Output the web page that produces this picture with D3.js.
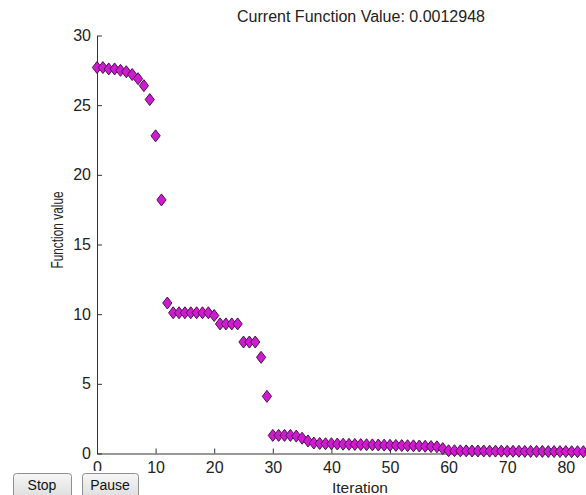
<!DOCTYPE html>
<html>
<head>
<meta charset="utf-8">
<script src="https://cdn.jsdelivr.net/npm/d3@7"></script>
<style>
    body { margin: 0; background: #fff; }
    svg { display: block; font-family: "Liberation Sans", Arial, sans-serif; }
</style>
</head>
<body>
<script>
// function value per iteration
var values = [
    27.7, 27.7, 27.6, 27.6, 27.5, 27.4, 27.2, 26.9, 26.4, 25.4, 22.8, 18.2,
    10.8, 10.1, 10.1, 10.1, 10.1, 10.1, 10.1, 10.1, 9.9,
    9.3, 9.3, 9.3, 9.3, 8.0, 8.0, 8.0, 6.9, 4.1,
    1.3, 1.3, 1.3, 1.3, 1.25, 1.1, 0.9, 0.75,
    0.72, 0.7, 0.7, 0.68, 0.67, 0.66, 0.65, 0.64, 0.63, 0.62, 0.61, 0.6,
    0.59, 0.58, 0.57, 0.56, 0.55, 0.54, 0.52, 0.5, 0.48, 0.35,
    0.2, 0.2, 0.19, 0.19, 0.18, 0.18, 0.18, 0.17, 0.17, 0.17, 0.16, 0.16,
    0.16, 0.15, 0.15, 0.15, 0.15, 0.14, 0.14, 0.14, 0.14, 0.13, 0.13, 0.13, 0.13
];
var xTicks = [0, 10, 20, 30, 40, 50, 60, 70, 80];
var yTicks = [0, 5, 10, 15, 20, 25, 30];
var titleText = "Current Function Value: 0.0012948";
var buttons = ["Stop", "Pause"];

var width = 586, height = 495;

var svg = d3.select("body").append("svg")
    .attr("width", width)
    .attr("height", height);

var x = d3.scaleLinear().domain([0, 90]).range([97, 97 + 90 * 5.86]);
var y = d3.scaleLinear().domain([0, 30]).range([453.5, 35.5]);

// axes (MATLAB style: inward ticks, no box)
svg.append("g")
    .attr("transform", "translate(0," + y(0) + ")")
    .call(d3.axisBottom(x).tickValues(xTicks).tickSizeInner(-5).tickSizeOuter(0).tickPadding(8));
svg.append("g")
    .attr("transform", "translate(" + x(0) + ",0)")
    .call(d3.axisLeft(y).tickValues(yTicks).tickSizeInner(-5).tickSizeOuter(0).tickPadding(6));

svg.selectAll(".domain, .tick line").attr("stroke", "#333");
svg.selectAll(".tick text").attr("fill", "#222").style("font-size", "16px")
    .style("font-family", "\"Liberation Sans\", Arial, sans-serif");

// diamonds
var diamond = "M0,-6L4.6,0L0,6L-4.6,0Z";
svg.append("g").selectAll("path")
    .data(values)
    .enter()
    .append("path")
    .attr("d", diamond)
    .attr("transform", function (d, i) {
        return "translate(" + x(i) + "," + y(d) + ")";
    })
    .attr("fill", "#d01ad2")
    .attr("stroke", "#4a1050")
    .attr("stroke-width", 1);

// title and labels
svg.append("text")
    .attr("x", 361)
    .attr("y", 22)
    .attr("text-anchor", "middle")
    .style("font-size", "16px")
    .attr("fill", "#222")
    .text(titleText);

svg.append("text")
    .attr("x", 360)
    .attr("y", 492.5)
    .attr("text-anchor", "middle")
    .style("font-size", "15.5px")
    .attr("fill", "#222")
    .text("Iteration");

// y label: tall narrow glyphs like the original
svg.append("text")
    .attr("transform", "translate(62.5,230) rotate(-90) scale(0.72,1)")
    .attr("text-anchor", "middle")
    .style("font-size", "16.5px")
    .attr("fill", "#222")
    .text("Function value");

// button strip
svg.append("rect")
    .attr("x", 0).attr("y", 471)
    .attr("width", 142).attr("height", 24)
    .attr("fill", "#fff");

var grad = svg.append("defs").append("linearGradient")
    .attr("id", "btn").attr("x1", 0).attr("y1", 0).attr("x2", 0).attr("y2", 1);
grad.append("stop").attr("offset", "0%").attr("stop-color", "#f6f6f6");
grad.append("stop").attr("offset", "100%").attr("stop-color", "#dcdcdc");

var btnX = [13, 82], btnW = [58, 56];
var btn = svg.selectAll(".btn")
    .data(buttons)
    .enter()
    .append("g")
    .attr("class", "btn");
btn.append("rect")
    .attr("x", function (d, i) { return btnX[i] + 0.5; })
    .attr("y", 473.5)
    .attr("width", function (d, i) { return btnW[i]; })
    .attr("height", 26)
    .attr("rx", 3)
    .attr("fill", "url(#btn)")
    .attr("stroke", "#8e8f8f");
btn.append("text")
    .attr("x", function (d, i) { return btnX[i] + btnW[i] / 2; })
    .attr("y", 490)
    .attr("text-anchor", "middle")
    .style("font-size", "14px")
    .attr("fill", "#111")
    .text(function (d) { return d; });
</script>
</body>
</html>
